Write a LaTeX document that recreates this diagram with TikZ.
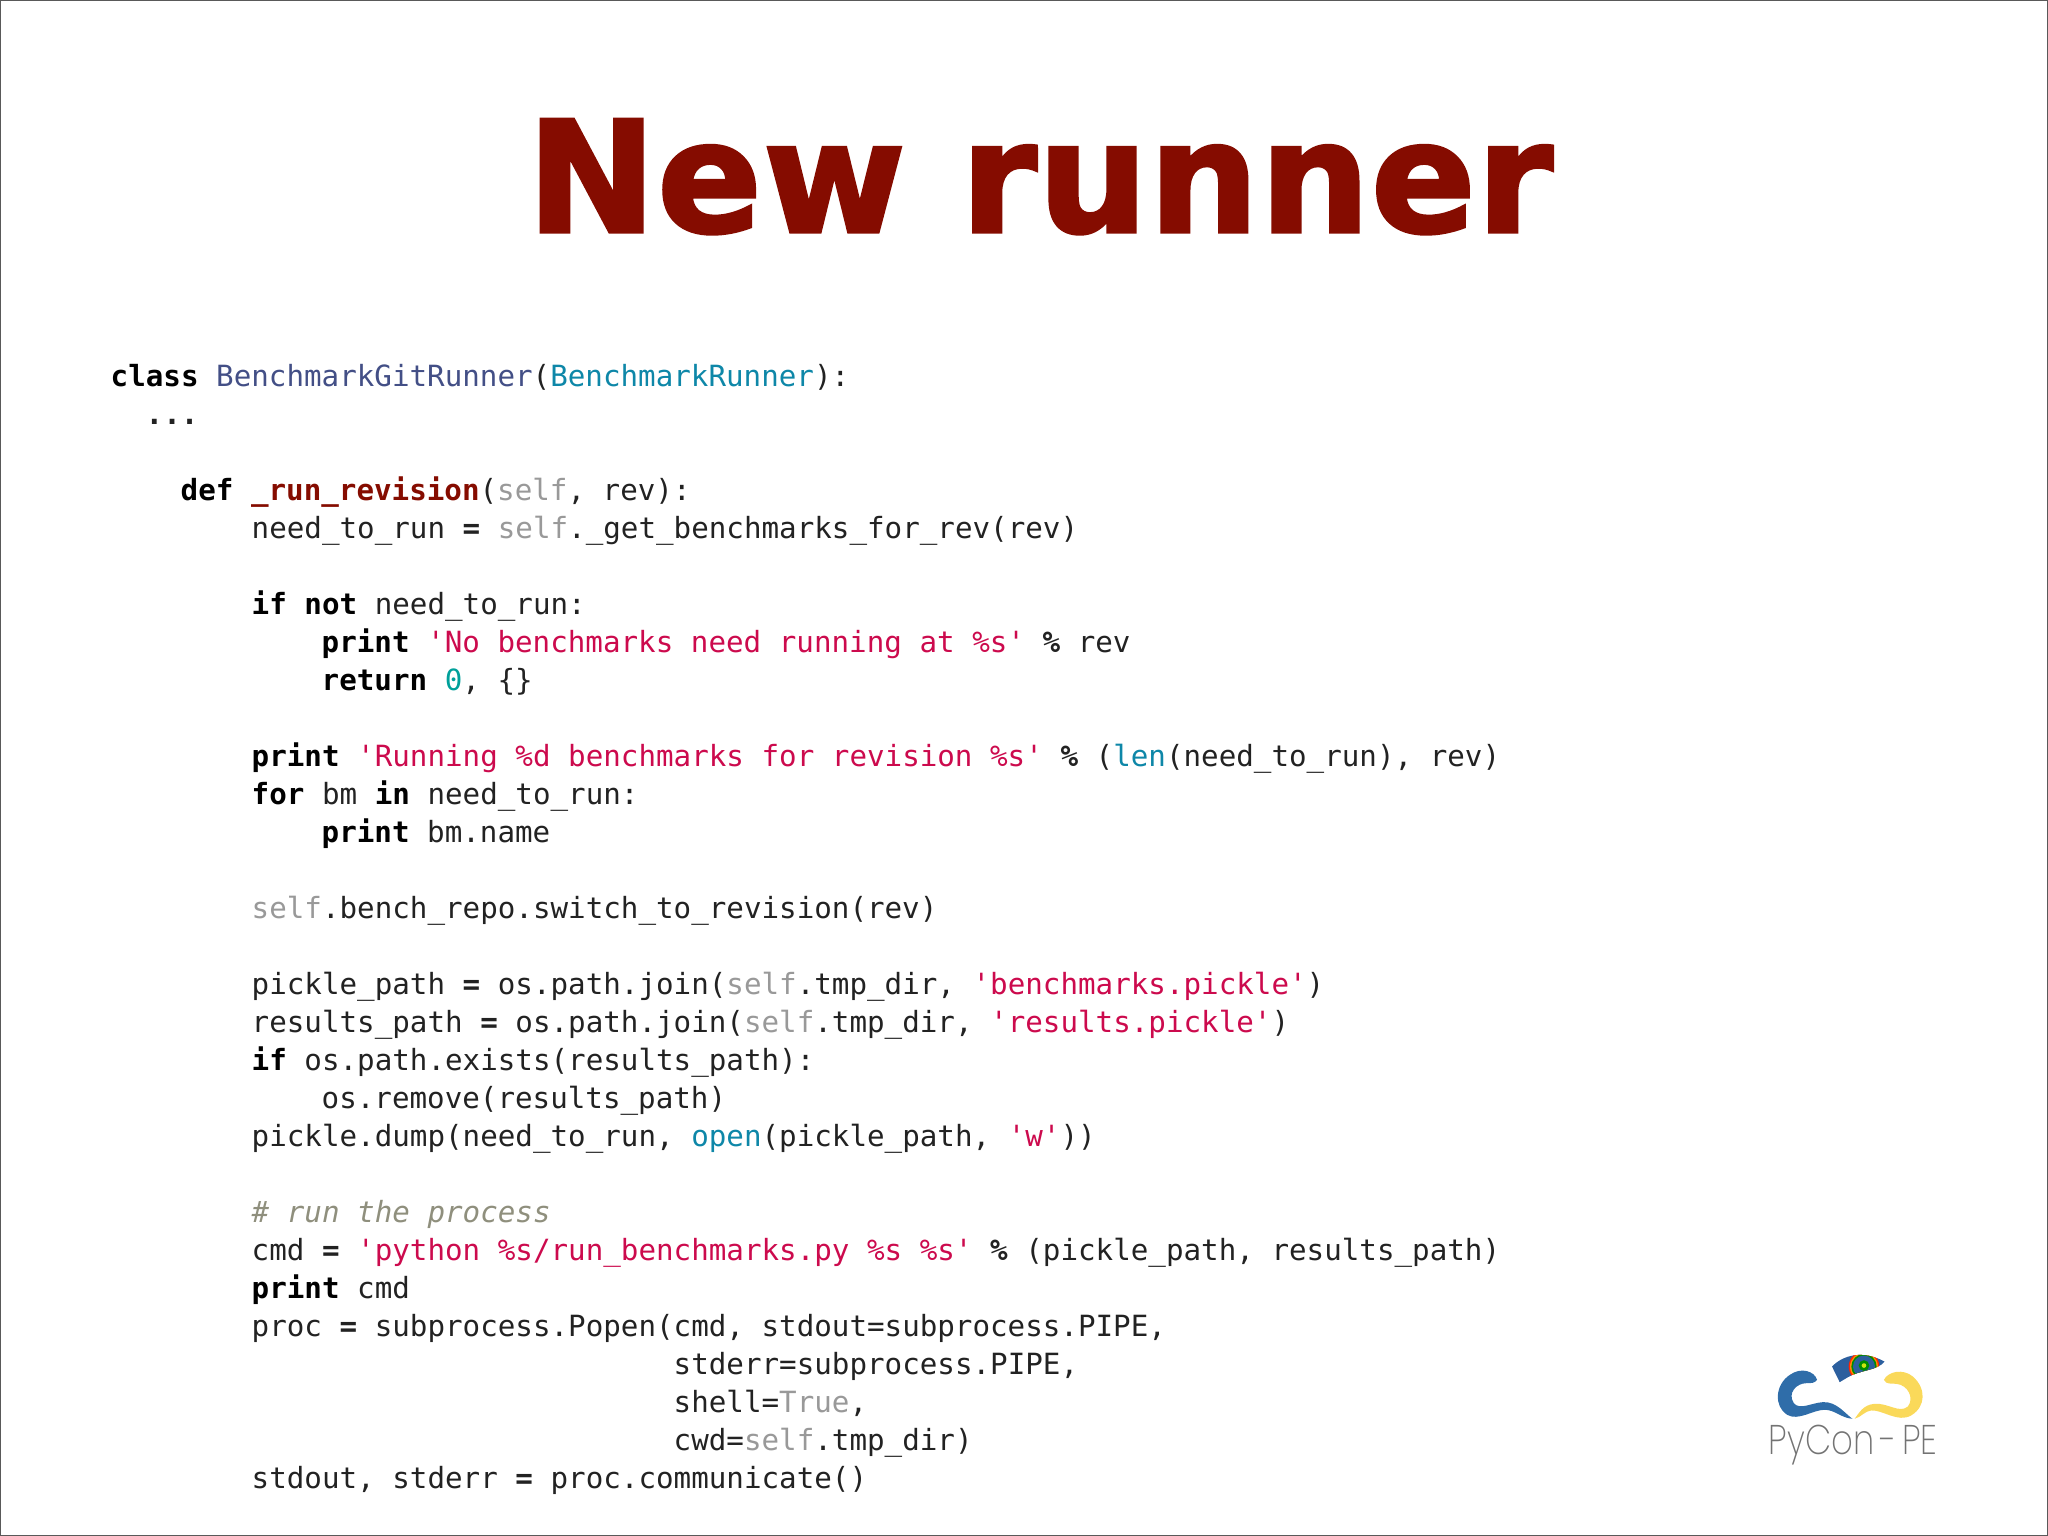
\documentclass[tikz,border=0pt]{standalone}
\usepackage{fontspec}
\newfontfamily\codefont{DejaVu Sans Mono}
\newfontfamily\titlefont[FakeBold=2,LetterSpace=0.6]{DejaVu Sans Bold}
\newfontfamily\logofont{Poppins ExtraLight}
\definecolor{titlered}{HTML}{850C00}
\definecolor{classblue}{HTML}{434F86}
\definecolor{basecyan}{HTML}{0E87A8}
\definecolor{strred}{HTML}{CC0A4D}
\definecolor{numteal}{HTML}{00A09A}
\definecolor{selfgray}{HTML}{999999}
\definecolor{commentgray}{HTML}{8F8F7D}
\definecolor{codeink}{HTML}{222222}
\definecolor{snakeblue}{HTML}{2F6DA9}
\definecolor{snakeyellow}{HTML}{FAD95A}
\definecolor{hatblue}{HTML}{2C5F9E}
\newcommand{\kw}[1]{\textbf{\textcolor{black}{#1}}}
\newcommand{\str}[1]{\textcolor{strred}{#1}}
\newcommand{\slf}{\textcolor{selfgray}{self}}
\newcommand{\bi}[1]{\textcolor{basecyan}{#1}}
\tikzset{
  codeline/.style={anchor=base west, inner sep=0pt, text=codeink, font=\codefont\fontsize{8.31}{10}\selectfont},
}
\begin{document}
\begin{tikzpicture}
  \useasboundingbox (0,0) rectangle (20.48,15.36);
  \draw[draw=black!65, line width=0.02cm] (0,0) rectangle (20.48,15.36);

  \node[anchor=base, inner sep=0pt, text=titlered, font=\titlefont\fontsize{44}{50}\selectfont] (title) at (10.40,13.04) {New runner};

  \node[codeline] (l0) at (1.10,11.49) {\kw{class} \textcolor{classblue}{BenchmarkGitRunner}(\bi{BenchmarkRunner}):};
  \node[codeline] (l1) at (1.45,11.11) {\textbf{...}};
  \node[codeline] (l3) at (1.80,10.35) {\kw{def} \textcolor{titlered}{\textbf{\_run\_revision}}(\slf, rev):};
  \node[codeline] (l4) at (2.51,9.97) {need\_to\_run \textbf{=} \slf.\_get\_benchmarks\_for\_rev(rev)};
  \node[codeline] (l6) at (2.51,9.21) {\kw{if} \kw{not} need\_to\_run:};
  \node[codeline] (l7) at (3.21,8.83) {\kw{print} \str{'No benchmarks need running at \%s'} \textbf{\%} rev};
  \node[codeline] (l8) at (3.21,8.45) {\kw{return} \textcolor{numteal}{0}, \{\}};
  \node[codeline] (l10) at (2.51,7.69) {\kw{print} \str{'Running \%d benchmarks for revision \%s'} \textbf{\%} (\bi{len}(need\_to\_run), rev)};
  \node[codeline] (l11) at (2.51,7.31) {\kw{for} bm \kw{in} need\_to\_run:};
  \node[codeline] (l12) at (3.21,6.93) {\kw{print} bm.name};
  \node[codeline] (l14) at (2.51,6.17) {\slf.bench\_repo.switch\_to\_revision(rev)};
  \node[codeline] (l16) at (2.51,5.41) {pickle\_path \textbf{=} os.path.join(\slf.tmp\_dir, \str{'benchmarks.pickle'})};
  \node[codeline] (l17) at (2.51,5.03) {results\_path \textbf{=} os.path.join(\slf.tmp\_dir, \str{'results.pickle'})};
  \node[codeline] (l18) at (2.51,4.65) {\kw{if} os.path.exists(results\_path):};
  \node[codeline] (l19) at (3.21,4.27) {os.remove(results\_path)};
  \node[codeline] (l20) at (2.51,3.89) {pickle.dump(need\_to\_run, \bi{open}(pickle\_path, \str{'w'}))};
  \node[codeline] (l22) at (2.51,3.13) {\textcolor{commentgray}{\itshape \# run the process}};
  \node[codeline] (l23) at (2.51,2.75) {cmd \textbf{=} \str{'python \%s/run\_benchmarks.py \%s \%s'} \textbf{\%} (pickle\_path, results\_path)};
  \node[codeline] (l24) at (2.51,2.37) {\kw{print} cmd};
  \node[codeline] (l25) at (2.51,1.99) {proc \textbf{=} subprocess.Popen(cmd, stdout=subprocess.PIPE,};
  \node[codeline] (l26) at (6.73,1.61) {stderr=subprocess.PIPE,};
  \node[codeline] (l27) at (6.73,1.23) {shell=\textcolor{selfgray}{True},};
  \node[codeline] (l28) at (6.73,0.85) {cwd=\slf.tmp\_dir)};
  \node[codeline] (l29) at (2.51,0.47) {stdout, stderr \textbf{=} proc.communicate()};

  \begin{scope}[shift={(17,2.16)}, x=0.003333cm, y=-0.003333cm]
    \fill[snakeblue] (352,180) .. controls (345,155) and (305,140) .. (270,165)
      .. controls (225,195) and (222,260) .. (262,285) .. controls (295,305) and (340,270) .. (375,270)
      .. controls (405,270) and (425,295) .. (458,297) .. controls (435,280) and (410,245) .. (370,247)
      .. controls (335,249) and (300,272) .. (282,250) .. controls (262,220) and (290,190) .. (320,190)
      .. controls (335,190) and (345,190) .. (352,180) -- cycle;
    \fill[snakeyellow] (553,180) .. controls (565,155) and (610,145) .. (640,170)
      .. controls (680,205) and (680,260) .. (635,287) .. controls (595,310) and (550,270) .. (515,272)
      .. controls (495,274) and (485,292) .. (465,297) .. controls (478,280) and (490,255) .. (525,252)
      .. controls (565,249) and (600,282) .. (625,260) .. controls (645,235) and (625,195) .. (590,192)
      .. controls (575,190) and (560,195) .. (553,180) -- cycle;
    \begin{scope}
      \clip (397,140) .. controls (430,105) and (490,90) .. (555,125)
        .. controls (535,152) and (480,150) .. (445,172) -- (420,187) -- cycle;
      \fill[hatblue] (380,90) rectangle (570,190);
      \fill[red!70!orange] (493,140) circle (46);
      \fill[orange!90!yellow] (493,140) circle (42);
      \fill[green!55!black] (493,140) circle (38);
      \fill[hatblue] (493,140) circle (33);
      \fill[green!55!black] (493,137) circle (16);
      \fill[yellow!80!green] (493,137) circle (7);
    \end{scope}
    \node[anchor=base west, inner sep=0pt, text=black!55, font=\logofont\fontsize{11.8}{14}\selectfont, xscale=0.82] (logo) at (205,405) {PyCon\,-\,PE};
  \end{scope}
\end{tikzpicture}
\end{document}
